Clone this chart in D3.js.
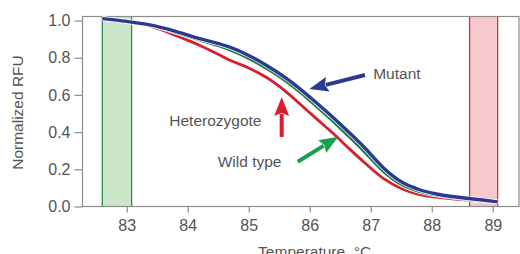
<!DOCTYPE html>
<html>
<head>
<meta charset="utf-8">
<script src="https://cdn.jsdelivr.net/npm/d3@7"></script>
<style>
  body { margin: 0; background: #fff; }
  svg { display: block; font-family: "Liberation Sans", Arial, sans-serif; }
</style>
</head>
<body>
<svg width="520" height="254"></svg>
<script>
// melt curve readings (temperature in °C, normalized RFU)
var temps = [82.6, 83.0, 83.4, 83.8, 84.2, 84.5, 84.7, 85.0, 85.3, 85.6, 85.85, 86.1, 86.4, 86.65, 86.9, 87.2, 87.5, 87.8, 88.1, 88.5, 88.8, 89.08];
var mutant = [1.01, 0.995, 0.975, 0.942, 0.902, 0.876, 0.855, 0.812, 0.757, 0.693, 0.63, 0.56, 0.473, 0.396, 0.316, 0.21, 0.133, 0.09, 0.066, 0.047, 0.036, 0.025];
var wildType = [1.01, 0.995, 0.973, 0.936, 0.894, 0.864, 0.84, 0.796, 0.74, 0.676, 0.612, 0.54, 0.452, 0.373, 0.292, 0.19, 0.118, 0.08, 0.06, 0.043, 0.034, 0.025];
var heterozygote = [1.01, 0.995, 0.968, 0.92, 0.866, 0.818, 0.785, 0.745, 0.692, 0.62, 0.548, 0.475, 0.388, 0.31, 0.235, 0.153, 0.097, 0.064, 0.049, 0.037, 0.031, 0.025];

var xTicks = [83, 84, 85, 86, 87, 88, 89];
var yTicks = [0, 0.2, 0.4, 0.6, 0.8, 1.0];
var greenBand = [82.6, 83.08];
var redBand = [88.62, 89.08];

var svg = d3.select("svg"),
    margin = {top: 16.5, right: 1, bottom: 47.5, left: 82.5},
    width = svg.attr("width") - margin.left - margin.right,
    height = svg.attr("height") - margin.top - margin.bottom;

var x = d3.scaleLinear().domain([82.275, 89.43]).range([0, width]);
var y = d3.scaleLinear().domain([0, 1.0215]).range([height, 0]);

var g = svg.append("g")
    .attr("transform", "translate(" + margin.left + "," + margin.top + ")");

var axisColor = "#8c8c8c";

// shaded temperature windows
function band(b, fill, edge) {
    g.append("rect")
        .attr("x", x(b[0])).attr("y", 0)
        .attr("width", x(b[1]) - x(b[0])).attr("height", height)
        .attr("fill", fill);
    b.forEach(function(t) {
        g.append("line")
            .attr("x1", x(t)).attr("x2", x(t))
            .attr("y1", 0).attr("y2", height)
            .attr("stroke", edge).attr("stroke-width", 1.3);
    });
}
band(greenBand, "#cbe6c9", "#2f8a4c");
band(redBand, "#f6c9cd", "#d3333f");

// frame
g.append("rect")
    .attr("x", 0).attr("y", 0)
    .attr("width", width).attr("height", height)
    .attr("fill", "none").attr("stroke", axisColor).attr("stroke-width", 1.2);

// curves
var line = d3.line()
    .x(function(d) { return x(d[0]); })
    .y(function(d) { return y(d[1]); })
    .curve(d3.curveMonotoneX);

var series = [
    {values: heterozygote, color: "#d6202f", w: 2.8},
    {values: wildType, color: "#1c7c3e", w: 2.8},
    {values: mutant, color: "#2a3a92", w: 3.4}
];

series.forEach(function(s) {
    var pts = temps.map(function(t, i) { return [t, s.values[i]]; });
    g.append("path").datum(pts)
        .attr("d", line)
        .attr("fill", "none")
        .attr("stroke", "#fff")
        .attr("stroke-width", s.w + 1.4);
    g.append("path").datum(pts)
        .attr("d", line)
        .attr("fill", "none")
        .attr("stroke", s.color)
        .attr("stroke-width", s.w)
        .attr("stroke-linejoin", "round");
});

// axes
var xAxis = g.append("g")
    .attr("transform", "translate(0," + height + ")")
    .call(d3.axisBottom(x).tickValues(xTicks).tickFormat(d3.format("d")).tickSize(6).tickPadding(7));
var yAxis = g.append("g")
    .call(d3.axisLeft(y).tickValues(yTicks).tickFormat(d3.format(".1f")).tickSize(8).tickPadding(4));

[xAxis, yAxis].forEach(function(a) {
    a.select(".domain").remove();
    a.selectAll(".tick line").attr("stroke", axisColor).attr("stroke-width", 1.2);
    a.selectAll(".tick text")
        .attr("fill", "#555")
        .style("font-size", "16px")
        .style("font-family", "'Liberation Sans', Arial, sans-serif");
});

svg.append("text")
    .attr("transform", "translate(23,112.5) rotate(-90)")
    .attr("text-anchor", "middle")
    .attr("fill", "#555")
    .style("font-size", "15.5px")
    .text("Normalized RFU");

svg.append("text")
    .attr("x", margin.left + x(86.08)).attr("y", 257)
    .attr("text-anchor", "middle")
    .attr("fill", "#555")
    .style("font-size", "15.5px")
    .text("Temperature, °C");

// annotations: arrows and labels, in data coordinates
var notes = [
    {label: "Mutant", lx: 87.04, ly: 0.685, from: [86.906, 0.707], to: [85.993, 0.632], color: "#2a3a92"},
    {label: "Heterozygote", lx: 83.698, ly: 0.435, from: [85.54, 0.374], to: [85.54, 0.589], color: "#d6202f"},
    {label: "Wild type", lx: 84.491, ly: 0.211, from: [85.803, 0.241], to: [86.468, 0.375], color: "#17a04b"}
];

notes.forEach(function(n) {
    var x1 = x(n.from[0]), y1 = y(n.from[1]),
        x2 = x(n.to[0]), y2 = y(n.to[1]);
    var ang = Math.atan2(y2 - y1, x2 - x1),
        headLen = 19, headW = 7.5;
    var bx = x2 - headLen * Math.cos(ang), by = y2 - headLen * Math.sin(ang);
    g.append("line")
        .attr("x1", x1).attr("y1", y1)
        .attr("x2", bx + 2 * Math.cos(ang)).attr("y2", by + 2 * Math.sin(ang))
        .attr("stroke", n.color).attr("stroke-width", 4);
    var px = -Math.sin(ang), py = Math.cos(ang);
    var nx = x2 - (headLen - 3) * Math.cos(ang), ny = y2 - (headLen - 3) * Math.sin(ang);
    g.append("path")
        .attr("d", "M" + x2 + "," + y2 +
            "L" + (bx + px * headW) + "," + (by + py * headW) +
            "L" + nx + "," + ny +
            "L" + (bx - px * headW) + "," + (by - py * headW) + "Z")
        .attr("fill", n.color);
    g.append("text")
        .attr("x", x(n.lx)).attr("y", y(n.ly))
        .attr("fill", "#555")
        .style("font-size", "15.5px")
        .text(n.label);
});
</script>
</body>
</html>
